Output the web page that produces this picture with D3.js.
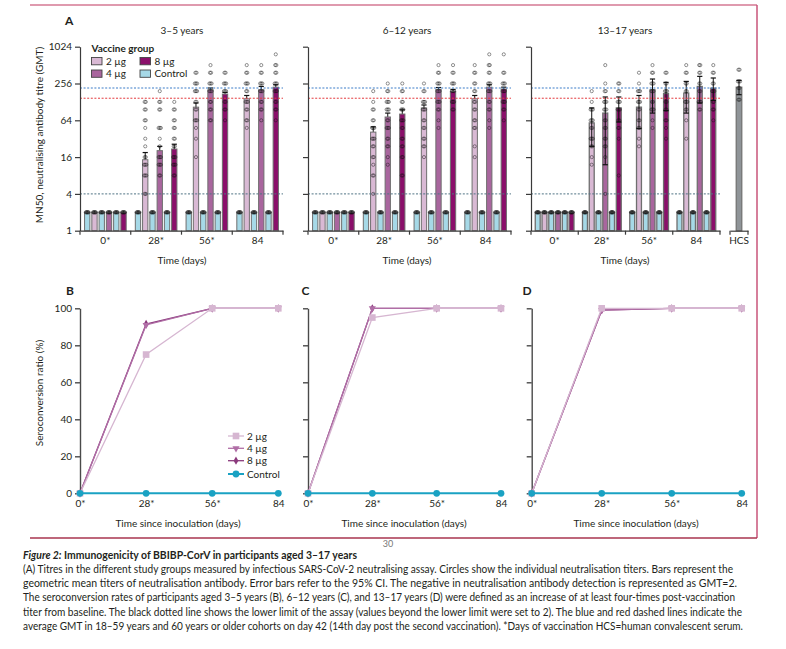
<!DOCTYPE html>
<html>
<head>
<meta charset="utf-8">
<script src="https://cdn.jsdelivr.net/npm/d3@7"></script>
<style>
  body { margin: 0; background: #fff; }
  svg { display: block; font-family: Lato, "Open Sans", sans-serif; }
  .tick text { font-size: 10px; fill: #231f20; font-family: Lato, sans-serif; }
</style>
</head>
<body>
<svg width="786" height="649"></svg>
<script>
// ---- data ----
const days = ["0*", "28*", "56*", "84"];
const seroDays = [0, 28, 56, 84];
const doses = ["2 µg", "4 µg", "8 µg"];
const ageGroups = ["3–5 years", "6–12 years", "13–17 years"];
const titreTicks = [1, 4, 16, 64, 256, 1024];
const seroTicks = [0, 20, 40, 60, 80, 100];
const negativeGMT = 2;
const assayLimit = 4;
const gmtAdults18to59 = 216;
const gmtAdults60plus = 147;

// GMT per dose (rows: 2, 4, 8 µg) per day
const gmt3to5 = [[2, 14.5, 105, 144], [2, 20.4, 202, 202], [2, 21.7, 172, 223]];
const upper3to5 = [[2, 19, 123, 163], [2, 24, 216, 229], [2, 26, 183, 244]];
const gmt6to12 = [[2, 41, 102, 144], [2, 72.5, 205, 223], [2, 81, 190, 208]];
const upper6to12 = [[2, 50, 114, 163], [2, 84, 220, 244], [2, 95, 205, 223]];
const gmt13to17 = [[2, 58, 105, 179], [2, 84, 202, 229], [2, 102, 175, 215]];
const upper13to17 = [[2, 102, 163, 277], [2, 154, 303, 335], [2, 154, 267, 315]];
const lower13to17 = [[2, 24, 47, 84], [2, 12, 84, 123], [2, 60, 92, 135]];
const hcsGMT = 223, hcsUpper = 288, hcsLower = 168;

// individual titres: [value, how many]
const controlPoints = [[2, 6]];
const points3to5 = [
  [[[2, 6]], [[128, 2], [96, 2], [64, 2], [48, 1], [32, 1], [24, 1], [16, 2], [12, 3], [8, 3], [4, 2]],
   [[384, 2], [256, 3], [192, 3], [128, 2], [96, 2], [64, 3], [48, 1], [32, 1], [16, 1]],
   [[512, 1], [384, 2], [256, 3], [192, 2], [128, 3], [96, 2], [64, 2], [48, 1]]],
  [[[2, 6]], [[192, 1], [128, 2], [96, 2], [48, 3], [32, 1], [24, 1], [16, 3], [12, 3], [8, 2]],
   [[512, 1], [384, 2], [256, 3], [192, 3], [128, 2], [96, 2], [64, 2]],
   [[512, 1], [384, 2], [256, 3], [192, 3], [128, 2], [96, 2], [64, 1]]],
  [[[2, 6]], [[128, 1], [96, 2], [64, 2], [48, 2], [32, 2], [24, 2], [16, 3], [12, 3], [8, 2]],
   [[384, 2], [256, 3], [192, 3], [128, 2], [96, 2], [64, 1]],
   [[768, 1], [512, 2], [384, 2], [256, 3], [192, 3], [128, 2], [96, 2], [64, 1]]]
];
const points6to12 = [
  [[[2, 6]], [[192, 1], [128, 1], [96, 2], [64, 2], [48, 3], [32, 3], [24, 2], [16, 2], [12, 1], [8, 2], [4, 1]],
   [[256, 1], [192, 2], [128, 3], [96, 3], [64, 2], [48, 2], [32, 2], [24, 2], [16, 1]],
   [[512, 1], [384, 2], [256, 2], [192, 2], [128, 2], [96, 2], [64, 2], [48, 2], [24, 1], [16, 1]]],
  [[[2, 6]], [[256, 1], [192, 2], [128, 3], [96, 3], [64, 2], [48, 3], [32, 2], [24, 2], [16, 1], [12, 1]],
   [[512, 1], [384, 2], [256, 3], [192, 3], [128, 3], [96, 2], [64, 1], [48, 1]],
   [[768, 1], [512, 2], [384, 2], [256, 3], [192, 3], [128, 2], [96, 2], [64, 1], [48, 1]]],
  [[[2, 6]], [[256, 1], [192, 2], [128, 2], [96, 3], [64, 3], [48, 2], [32, 2], [24, 2], [16, 2], [8, 2]],
   [[512, 1], [384, 2], [256, 3], [192, 3], [128, 3], [96, 2]],
   [[768, 1], [384, 2], [256, 3], [192, 3], [128, 3], [96, 2], [64, 1]]]
];
const points13to17 = [
  [[[2, 6]], [[192, 1], [128, 1], [96, 3], [64, 3], [48, 2], [32, 3], [24, 2], [16, 1], [12, 1]],
   [[384, 1], [256, 1], [192, 3], [128, 3], [96, 2], [64, 2], [48, 2], [32, 1], [24, 1]],
   [[512, 1], [384, 2], [256, 2], [192, 2], [128, 3], [96, 2], [64, 1], [32, 1]]],
  [[[2, 6]], [[512, 1], [256, 1], [192, 2], [128, 3], [96, 3], [64, 2], [48, 2], [32, 2], [24, 2], [16, 1], [4, 1]],
   [[512, 1], [384, 2], [256, 3], [192, 3], [128, 2], [96, 3], [64, 1], [48, 1]],
   [[512, 2], [384, 2], [256, 2], [192, 2], [128, 3], [96, 2]]],
  [[[2, 6]], [[256, 2], [192, 2], [128, 3], [96, 3], [64, 2], [48, 2], [32, 1], [8, 1]],
   [[384, 2], [256, 2], [192, 3], [128, 2], [96, 2], [64, 2], [48, 1], [32, 1]],
   [[512, 1], [384, 2], [256, 2], [192, 3], [128, 2], [96, 2], [64, 1]]]
];
const hcsPoints = [[430, 2], [277, 3], [216, 2], [139, 2]];

// seroconversion (%) rows: 2 µg, 4 µg, 8 µg, Control
const seroSeries = ["2 µg", "4 µg", "8 µg", "Control"];
const sero3to5 = [[0, 75, 100, 100], [0, 91, 100, 100], [0, 91.5, 100, 100], [0, 0, 0, 0]];
const sero6to12 = [[0, 95, 100, 100], [0, 100, 100, 100], [0, 100, 100, 100], [0, 0, 0, 0]];
const sero13to17 = [[0, 100, 100, 100], [0, 99, 100, 100], [0, 99, 100, 100], [0, 0, 0, 0]];

const captionTitle = ["Figure 2:", " Immunogenicity of BBIBP-CorV in participants aged 3–17 years"];
const captionLines = [
  "(A) Titres in the different study groups measured by infectious SARS-CoV-2 neutralising assay. Circles show the individual neutralisation titers. Bars represent the",
  "geometric mean titers of neutralisation antibody. Error bars refer to the 95% CI. The negative in neutralisation antibody detection is represented as GMT=2.",
  "The seroconversion rates of participants aged 3–5 years (B), 6–12 years (C), and 13–17 years (D) were defined as an increase of at least four-times post-vaccination",
  "titer from baseline. The black dotted line shows the lower limit of the assay (values beyond the lower limit were set to 2). The blue and red dashed lines indicate the",
  "average GMT in 18–59 years and 60 years or older cohorts on day 42 (14th day post the second vaccination). *Days of vaccination HCS=human convalescent serum."
];

// ---- styling ----
const barColor = { "2 µg": "#d9b9d4", "4 µg": "#a9669e", "8 µg": "#8a0f6a", "Control": "#a6d9e7", "HCS": "#8f9498" };
const seroColor = ["#d6b6d1", "#b06ea6", "#8b3a7d", "#1aa2c3"];
const ink = "#231f20";

const svg = d3.select("svg");

// page frame
svg.append("line").attr("x1", 30).attr("x2", 757).attr("y1", 5).attr("y2", 5)
  .attr("stroke", "#d57893").attr("stroke-width", 1.5);
svg.append("line").attr("x1", 757).attr("x2", 757).attr("y1", 5).attr("y2", 538)
  .attr("stroke", "#c9557a").attr("stroke-width", 1.5);
svg.append("line").attr("x1", 30).attr("x2", 757).attr("y1", 538).attr("y2", 538)
  .attr("stroke", "#a8354f").attr("stroke-width", 1.5);

// ---- panel A ----
const titreTables = [
  { gmt: gmt3to5, upper: upper3to5, lower: null, points: points3to5 },
  { gmt: gmt6to12, upper: upper6to12, lower: null, points: points6to12 },
  { gmt: gmt13to17, upper: upper13to17, lower: lower13to17, points: points13to17 }
];
const topLayout = [
  { x0: 80, x1: 283, cx: 182, labels: true },
  { x0: 308, x1: 511, cx: 407, labels: false },
  { x0: 531, x1: 720, cx: 625, labels: false }
];

const y = d3.scaleLog().base(2).domain([1, 1024]).range([230.7, 46.7]);

function drawPoints(g, pts, cx, bw) {
  pts.forEach(([v, n]) => {
    const step = n > 1 ? Math.min(1.1, (bw - 2.5) / (n - 1)) : 0;
    d3.range(n).forEach(i => {
      g.append("circle")
        .attr("cx", cx + (i - (n - 1) / 2) * step)
        .attr("cy", y(v))
        .attr("r", 1.6)
        .attr("fill", "none")
        .attr("stroke", "#111")
        .attr("stroke-width", 1)
        .attr("stroke-opacity", 0.45);
    });
  });
}

function errorBar(g, cx, from, to, cap) {
  g.append("line").attr("x1", cx).attr("x2", cx).attr("y1", y(from)).attr("y2", y(to))
    .attr("stroke", "#111").attr("stroke-width", 1);
  g.append("line").attr("x1", cx - cap).attr("x2", cx + cap).attr("y1", y(to)).attr("y2", y(to))
    .attr("stroke", "#111").attr("stroke-width", 1.2);
}

ageGroups.forEach((age, p) => {
  const L = topLayout[p];
  const T = titreTables[p];
  const g = svg.append("g");
  const x = d3.scaleBand().domain(days).range([L.x0, L.x1]);
  const half = x.bandwidth() * 0.41;
  const inner = d3.scaleBand().domain(d3.range(6)).range([-half, half]).paddingInner(0.27);
  const bw = inner.bandwidth();

  const bars = [];
  days.forEach((day, di) => {
    doses.forEach((dose, k) => {
      bars.push({ day, slot: 2 * k, group: "Control", value: negativeGMT, hi: null, lo: null, points: controlPoints });
      bars.push({
        day, slot: 2 * k + 1, group: dose, value: T.gmt[k][di],
        hi: di > 0 ? T.upper[k][di] : null,
        lo: di > 0 && T.lower ? T.lower[k][di] : null,
        points: T.points[k][di]
      });
    });
  });
  bars.forEach(b => b.cx = x(b.day) + x.bandwidth() / 2 + inner(b.slot) + bw / 2);

  // error bars behind the bars (upper whisker shows above)
  bars.filter(b => b.hi && !b.lo).forEach(b => errorBar(g, b.cx, b.value, b.hi, 2.6));

  g.selectAll("rect.bar").data(bars).join("rect")
    .attr("class", "bar")
    .attr("x", d => d.cx - bw / 2)
    .attr("y", d => y(d.value))
    .attr("width", bw)
    .attr("height", d => y(1) - y(d.value))
    .attr("fill", d => barColor[d.group])
    .attr("stroke", "#6f6f6f")
    .attr("stroke-width", p === 2 ? 1.3 : 1);

  // full error bars drawn over the bars in the 13–17 panel
  bars.filter(b => b.lo).forEach(b => {
    errorBar(g, b.cx, b.value, b.hi, 2.6);
    errorBar(g, b.cx, b.value, b.lo, 2.6);
  });

  // reference lines
  const refs = [
    { v: gmtAdults18to59, c: "#3b7cc8" },
    { v: gmtAdults60plus, c: "#e33a3d" },
    { v: assayLimit, c: "#4f7384" }
  ];
  refs.forEach(r => {
    g.append("line").attr("x1", L.x0).attr("x2", L.x1).attr("y1", y(r.v)).attr("y2", y(r.v))
      .attr("stroke", r.c).attr("stroke-width", 1).attr("stroke-dasharray", "2,1.6");
  });

  bars.forEach(b => drawPoints(g, b.points, b.cx, bw));

  // axes
  const yAxis = d3.axisLeft(y).tickValues(titreTicks).tickSize(5).tickSizeOuter(0)
    .tickFormat(L.labels ? d3.format("d") : "");
  const ya = g.append("g").attr("transform", `translate(${L.x0},0)`).call(yAxis);
  ya.selectAll("path,line").attr("stroke", "#3a3a3a").attr("stroke-width", 1.2);

  const xa = g.append("g").attr("transform", `translate(0,${y(1)})`)
    .call(d3.axisBottom(x).tickSize(0).tickPadding(6));
  xa.select(".domain").attr("stroke", "#3a3a3a").attr("stroke-width", 1.2);
  const bounds = days.map(d => x(d)).concat([L.x1]);
  g.selectAll("line.bound").data(bounds).join("line").attr("class", "bound")
    .attr("x1", d => d).attr("x2", d => d).attr("y1", y(1)).attr("y2", y(1) + 4)
    .attr("stroke", "#3a3a3a").attr("stroke-width", 1.2);

  g.append("text").attr("x", L.cx).attr("y", 34).attr("text-anchor", "middle")
    .attr("font-size", 10).attr("fill", ink).text(age);
  g.append("text").attr("x", L.cx).attr("y", 264).attr("text-anchor", "middle")
    .attr("font-size", 10).attr("fill", ink).text("Time (days)");
});

// HCS bar beside the 13–17 panel
{
  const g = svg.append("g");
  const hx = d3.scaleBand().domain(["HCS"]).range([730, 748]);
  const cx = hx("HCS") + hx.bandwidth() / 2;
  g.append("rect").attr("x", cx - 2.8).attr("y", y(hcsGMT)).attr("width", 5.6)
    .attr("height", y(1) - y(hcsGMT)).attr("fill", barColor.HCS)
    .attr("stroke", "#6f6f6f").attr("stroke-width", 1.2);
  errorBar(g, cx, hcsGMT, hcsUpper, 2.6);
  errorBar(g, cx, hcsGMT, hcsLower, 2.6);
  drawPoints(g, hcsPoints, cx, 5.6);
  const xa = g.append("g").attr("transform", `translate(0,${y(1)})`)
    .call(d3.axisBottom(hx).tickSize(0).tickPadding(6));
  xa.select(".domain").attr("stroke", "#3a3a3a").attr("stroke-width", 1.2);
  [730, 748].forEach(v => g.append("line").attr("x1", v).attr("x2", v)
    .attr("y1", y(1)).attr("y2", y(1) + 4).attr("stroke", "#3a3a3a").attr("stroke-width", 1.2));
}

svg.append("text").attr("x", 65).attr("y", 24.5).attr("font-size", 12).attr("font-weight", 700)
  .attr("fill", ink).text("A");
svg.append("text").attr("transform", "translate(43,135) rotate(-90)").attr("text-anchor", "middle")
  .attr("font-size", 10).attr("fill", ink).text("MN50, neutralising antibody titre (GMT)");

// legend of panel A
const legA = svg.append("g");
legA.append("text").attr("x", 91.5).attr("y", 52).attr("font-size", 10).attr("font-weight", 700)
  .attr("fill", ink).text("Vaccine group");
const legItems = ["2 µg", "8 µg", "4 µg", "Control"];
legItems.forEach((k, i) => {
  const lx = i % 2 === 0 ? 91.5 : 140;
  const ly = i < 2 ? 57.5 : 70;
  legA.append("rect").attr("x", lx).attr("y", ly).attr("width", 10.5).attr("height", 7.3)
    .attr("fill", barColor[k]).attr("stroke", "#444").attr("stroke-width", 0.9);
  legA.append("text").attr("x", lx + 14.5).attr("y", ly + 7.3).attr("font-size", 10)
    .attr("fill", ink).text(k);
});

// ---- panels B, C, D ----
const seroTables = [sero3to5, sero6to12, sero13to17];
const botLayout = [
  { x0: 80, x1: 278.3, cx: 178, tag: "B", tx: 66, labels: true },
  { x0: 308, x1: 501, cx: 404, tag: "C", tx: 301.5, labels: false },
  { x0: 531.7, x1: 741.7, cx: 636, tag: "D", tx: 522.5, labels: false }
];
const ys = d3.scaleLinear().domain([0, 100]).range([493.3, 308.3]);
const symbols = [
  d3.symbol().type(d3.symbolSquare).size(44),
  d3.symbol().type(d3.symbolTriangle).size(22),
  d3.symbol().type(d3.symbolDiamond).size(20),
  d3.symbol().type(d3.symbolCircle).size(36)
];
const symbolRot = [0, 180, 0, 0];
const lineWidth = [1.3, 1.3, 1.3, 2];
const drawOrder = [2, 1, 0, 3];

seroTables.forEach((S, p) => {
  const L = botLayout[p];
  const g = svg.append("g");
  const x = d3.scaleLinear().domain([0, 84]).range([L.x0, L.x1]);

  const ya = g.append("g").attr("transform", `translate(${L.x0},0)`)
    .call(d3.axisLeft(ys).tickValues(seroTicks).tickSize(5).tickSizeOuter(0).tickPadding(3)
      .tickFormat(L.labels ? d3.format("d") : ""));
  ya.selectAll("path,line").attr("stroke", "#4a4a4a").attr("stroke-width", 1.4);

  const xa = g.append("g").attr("transform", `translate(0,${ys(0)})`)
    .call(d3.axisBottom(x).tickValues(seroDays).tickSize(0).tickPadding(7)
      .tickFormat((d, i) => days[i]));
  xa.select(".domain").remove();

  const line = d3.line().x((d, i) => x(seroDays[i])).y(d => ys(d));
  drawOrder.forEach(s => {
    g.append("path").datum(S[s]).attr("fill", "none").attr("stroke", seroColor[s])
      .attr("stroke-width", lineWidth[s]).attr("d", line);
    g.selectAll(null).data(S[s]).join("path")
      .attr("transform", (d, i) => `translate(${x(seroDays[i])},${ys(d)}) rotate(${symbolRot[s]})`)
      .attr("d", symbols[s]).attr("fill", seroColor[s]);
  });

  g.append("text").attr("x", L.tx).attr("y", 295).attr("font-size", 12).attr("font-weight", 700)
    .attr("fill", ink).text(L.tag);
  g.append("text").attr("x", L.cx).attr("y", 527).attr("text-anchor", "middle")
    .attr("font-size", 10).attr("fill", ink).text("Time since inoculation (days)");
});

svg.append("text").attr("transform", "translate(43,393) rotate(-90)").attr("text-anchor", "middle")
  .attr("font-size", 10).attr("fill", ink).text("Seroconversion ratio (%)");

// legend of panel B
const legRows = [436, 448.3, 460.7, 474];
seroSeries.forEach((name, s) => {
  const g = svg.append("g");
  g.append("line").attr("x1", 228).attr("x2", 244).attr("y1", legRows[s]).attr("y2", legRows[s])
    .attr("stroke", seroColor[s]).attr("stroke-width", lineWidth[s]);
  g.append("path").attr("transform", `translate(236,${legRows[s]}) rotate(${symbolRot[s]})`)
    .attr("d", symbols[s]).attr("fill", seroColor[s]);
  g.append("text").attr("x", 247).attr("y", legRows[s] + 3.6).attr("font-size", 10)
    .attr("fill", ink).text(name);
});

// page number peeking under the frame
svg.append("text").attr("x", 388).attr("y", 547).attr("text-anchor", "middle")
  .attr("font-size", 9).attr("fill", "#777").text("30");

// ---- caption ----
const title = svg.append("text").attr("x", 23).attr("y", 559).attr("font-size", 10.5)
  .attr("font-weight", 700).attr("fill", ink)
  .attr("textLength", 334).attr("lengthAdjust", "spacingAndGlyphs");
title.append("tspan").attr("font-style", "italic").text(captionTitle[0]);
title.append("tspan").text(captionTitle[1]);

const lineEnds = [733, 737, 735, 742, 743];
captionLines.forEach((t, i) => {
  svg.append("text").attr("x", 23).attr("y", 573 + i * 14.2).attr("font-size", 10.5)
    .attr("fill", ink).attr("textLength", lineEnds[i] - 23)
    .attr("lengthAdjust", "spacingAndGlyphs").text(t);
});
</script>
</body>
</html>
